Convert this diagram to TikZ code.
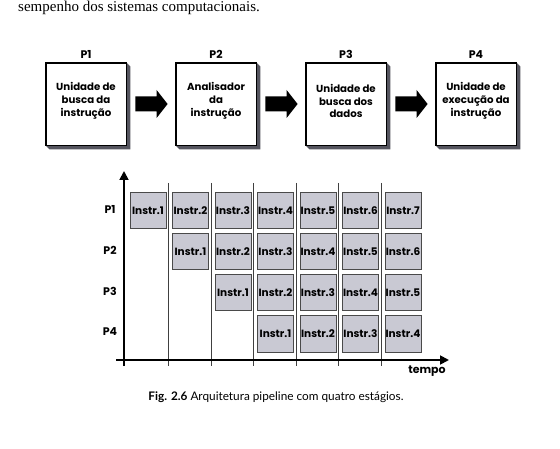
\documentclass[tikz,border=0pt]{standalone}
\usepackage{fontspec}
\setmainfont{Liberation Serif}
\newfontfamily\geo{Poppins}
\newfontfamily\capf{Lato}
\usetikzlibrary{calc,arrows.meta}
\definecolor{cellfill}{HTML}{C9C9D3}
\definecolor{cellline}{HTML}{4A4A4A}
\definecolor{shadowc}{HTML}{55555F}
\tikzset{
  stage/.style={draw=black, line width=0.8pt, fill=white, align=center,
    font=\geo\bfseries\fontsize{10.2}{12.8}\selectfont,
    minimum width=80pt, minimum height=82pt, inner sep=0pt},
  stagetext/.style={align=center, inner sep=0pt,
    font=\geo\bfseries\fontsize{10.2}{12.8}\selectfont},
  plabel/.style={font=\geo\bfseries\fontsize{11}{12}\selectfont, inner sep=0pt},
  cellbox/.style={draw=cellline, line width=1pt, fill=cellfill,
    minimum width=36pt, minimum height=36pt, inner sep=0pt,
    font=\geo\fontsize{10.5}{11}\selectfont},
  axisline/.style={line width=1.8pt, black},
  gridline/.style={line width=0.9pt, black!75},
}
\begin{document}
\begin{tikzpicture}[x=1pt,y=-1pt]
\useasboundingbox[fill=white] (0,0) rectangle (560,449);

% top cut-off text line
\node[anchor=base west, inner sep=0pt, font=\fontsize{15}{17}\selectfont] (toptext) at (18,12) {sempenho dos sistemas computacionais.};

% stage boxes
\foreach \i/\x/\t in {1/86/{Unidade de\\busca da\\instrução},
                      2/216/{Analisador\\da\\instrução},
                      3/346/{Unidade de\\busca dos\\dados},
                      4/476/{Unidade de\\execução da\\instrução}}{
  \node[stage] (b\i) at (\x,104) {};
  \fill[shadowc] (b\i.north east) -- ($(b\i.north east)+(4,4)$) -- ($(b\i.south east)+(4,4)$)
     -- ($(b\i.south west)+(4,4)$) -- (b\i.south west) -- (b\i.south east) -- cycle;
  \draw[line width=0.8pt] (b\i.north west) rectangle (b\i.south east);
  \node[stagetext] (bt\i) at ($(b\i.center)+(0,-3)$) {\t};
  \node[plabel] (l\i) at ($(b\i.north)+(0,-8.5)$) {P\i};
}

% block arrows between stages
\foreach \a/\b in {1/2,2/3,3/4}{
  \coordinate (t\a) at ($(b\a.east)+(9,0)$);
  \coordinate (h\a) at ($(b\b.west)+(-8,0)$);
  \fill[black] ($(t\a)+(0,-7.5)$) -- ($(h\a)+(-11,-7.5)$) -- ($(h\a)+(-11,-14)$) -- (h\a)
     -- ($(h\a)+(-11,14)$) -- ($(h\a)+(-11,7.5)$) -- ($(t\a)+(0,7.5)$) -- cycle;
}

% axes
\coordinate (O) at (124,360);
\coordinate (xs) at (116,360);
\coordinate (xe) at (449,360);
\coordinate (ye) at (124,171);
\coordinate (ys) at (124,366);

% vertical separator lines
\foreach \k in {0,...,5}{
  \coordinate (vt\k) at ({168.5+42.5*\k},183);
  \coordinate (vb\k) at ({168.5+42.5*\k},366);
  \draw[gridline] (vt\k) -- (vb\k);
}

\draw[axisline, -{Triangle[length=9pt,width=9pt]}] (ys) -- (ye);
\draw[axisline, -{Triangle[length=9pt,width=9pt]}] (xs) -- (xe);

% row labels
\foreach \r in {1,...,4}{
  \node[plabel] (r\r) at (110,{209+41*(\r-1)}) {P\r};
}

% cells
\foreach \r in {1,...,4}{
  \foreach \c in {\r,...,7}{
    \pgfmathtruncatemacro{\n}{\c-\r+1}
    \node[cellbox] (c\r-\c) at ({148+42.5*(\c-1)},{211+41*(\r-1)}) {\textbf{Instr.\n}};
  }
}

\node[plabel] (tempo) at (427,371) {tempo};

\node[font=\capf\fontsize{11.8}{13}\selectfont, inner sep=0pt] (caption) at (276,397)
  {\textbf{Fig. 2.6} Arquitetura pipeline com quatro estágios.};
\end{tikzpicture}
\end{document}
